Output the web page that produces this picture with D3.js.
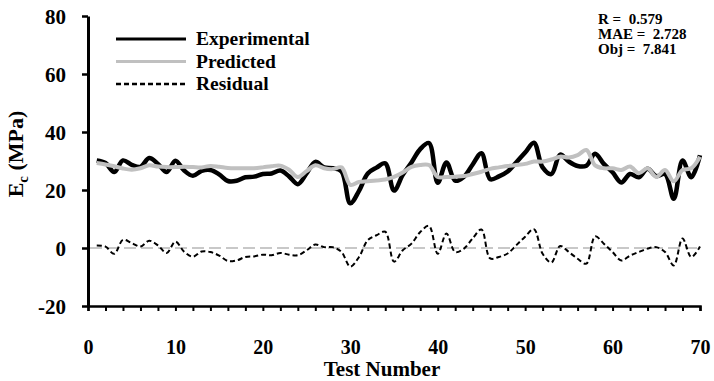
<!DOCTYPE html>
<html>
<head>
<meta charset="utf-8">
<script src="https://cdn.jsdelivr.net/npm/d3@7"></script>
<style>
  body { margin: 0; background: #fff; }
  text { font-family: "Liberation Serif", "Times New Roman", serif; font-weight: bold; fill: #000; }
</style>
</head>
<body>
<div id="chart"></div>
<script>
const tests = d3.range(1, 71);
const predicted = [29.3, 28.8, 28.2, 27.4, 27.0, 27.5, 28.5, 28.1, 27.9, 27.9,
  28.0, 27.9, 27.8, 28.3, 28.0, 27.6, 27.5, 27.5, 27.5, 27.8,
  28.2, 28.4, 27.0, 24.5, 26.5, 28.5, 27.5, 27.2, 27.8, 21.8,
  22.8, 23.0, 23.3, 23.6, 24.5, 26.0, 28.0, 28.6, 28.6, 24.5,
  24.5, 24.6, 24.8, 25.5, 26.3, 27.3, 27.8, 28.3, 28.6, 29.0,
  29.8, 29.8, 30.5, 31.5, 31.2, 32.0, 33.8, 28.5, 27.5, 27.5,
  26.9, 28.1, 25.8, 27.5, 24.5, 26.9, 23.0, 26.9, 27.5, 31.5];
const residual = [0.9, 0.5, -2.0, 2.8, 1.7, 0.5, 2.5, 0.9, -1.7, 2.2,
  -1.3, -3.0, -1.2, -1.4, -2.6, -4.5, -4.3, -3.1, -2.9, -2.3,
  -2.5, -1.7, -2.3, -2.5, -0.8, 1.2, 0.3, 0.3, -1.4, -6.4,
  -3.1, 2.7, 4.4, 5.6, -4.7, -0.8, 1.5, 5.5, 7.6, -2.0,
  5.0, -1.4, -0.2, 3.3, 6.4, -3.6, -3.1, -1.9, 1.0, 3.9,
  6.5, -2.0, -5.0, 0.7, -1.4, -3.7, -5.4, 4.0, 1.5, -1.4,
  -4.3, -2.6, -1.4, -0.2, 0.3, -1.4, -6.0, 3.3, -3.1, 0.5];
const experimental = [30.2, 29.3, 26.2, 30.2, 28.7, 28.0, 31.0, 29.0, 26.2, 30.1,
  26.7, 24.9, 26.6, 26.9, 25.4, 23.1, 23.2, 24.4, 24.6, 25.5,
  25.7, 26.7, 24.7, 22.0, 25.7, 29.7, 27.8, 27.5, 26.4, 15.4,
  19.7, 25.7, 27.7, 29.2, 19.8, 25.2, 29.5, 34.1, 36.2, 22.5,
  29.5, 23.2, 24.6, 28.8, 32.7, 23.7, 24.7, 26.4, 29.6, 32.9,
  36.3, 27.8, 25.5, 32.2, 29.8, 28.3, 28.4, 32.5, 29.0, 26.1,
  22.6, 25.5, 24.4, 27.3, 24.8, 25.5, 17.0, 30.2, 24.4, 32.0];
const xTicks = d3.range(0, 71, 2);
const yTicks = [-20, 0, 20, 40, 60, 80];
const stats = ['R =\u00a0\u00a00.579', 'MAE =\u00a0\u00a02.728', 'Obj =\u00a0\u00a07.841'];
const legendItems = ['Experimental', 'Predicted', 'Residual'];

const width = 714, height = 381;
const font = '"Liberation Serif", "Times New Roman", serif';
const svg = d3.select('#chart').append('svg').attr('width', width).attr('height', height);

const x = d3.scaleLinear().domain([0, 70]).range([88, 700]);
const y = d3.scaleLinear().domain([-20, 80]).range([306, 16]);

// axes
const xAxis = d3.axisBottom(x).tickValues(xTicks).tickSize(5)
  .tickFormat(d => d % 10 === 0 ? String(d) : '');
const gx = svg.append('g').attr('transform', 'translate(0,' + y(-20) + ')').call(xAxis);
gx.select('.domain').attr('stroke-width', 2.5);
gx.selectAll('.tick line').attr('stroke-width', 2);
gx.selectAll('.tick text').attr('y', 48).attr('dy', 0)
  .style('font-family', font).style('font-size', '20px');

const yAxis = d3.axisLeft(y).tickValues(yTicks).tickSize(6).tickSizeOuter(0)
  .tickFormat(d => String(d));
const gy = svg.append('g').attr('transform', 'translate(' + x(0) + ',0)').call(yAxis);
gy.select('.domain').attr('stroke-width', 3);
gy.selectAll('.tick line').attr('stroke-width', 2.5);
gy.selectAll('.tick text').attr('x', -22).attr('dy', '0.36em')
  .style('font-family', font).style('font-size', '21px');

// zero line
svg.append('line')
  .attr('x1', x(0) + 2).attr('x2', x(70)).attr('y1', y(0)).attr('y2', y(0))
  .attr('stroke', '#c8c8c8').attr('stroke-width', 2).attr('stroke-dasharray', '12,5');

const line = arr => d3.line().x((d, i) => x(tests[i])).y(d => y(d)).curve(d3.curveCatmullRom)(arr);

svg.append('path').attr('d', line(residual)).attr('fill', 'none')
  .attr('stroke', '#000').attr('stroke-width', 2).attr('stroke-dasharray', '5,3');
svg.append('path').attr('d', line(experimental)).attr('fill', 'none')
  .attr('stroke', '#000').attr('stroke-width', 4.5);
svg.append('path').attr('d', line(predicted)).attr('fill', 'none')
  .attr('stroke', '#c0c0c0').attr('stroke-width', 4);

// legend
const legendStyles = [
  {stroke: '#000', w: 3, dash: null},
  {stroke: '#c0c0c0', w: 3, dash: null},
  {stroke: '#000', w: 2.5, dash: '5,3'}
];
const lg = svg.append('g');
legendItems.forEach((name, i) => {
  const ly = 39 + i * 22.5;
  lg.append('line').attr('x1', 116).attr('x2', 186).attr('y1', ly).attr('y2', ly)
    .attr('stroke', legendStyles[i].stroke).attr('stroke-width', legendStyles[i].w)
    .attr('stroke-dasharray', legendStyles[i].dash);
  lg.append('text').attr('x', 196).attr('y', ly + 6).style('font-size', '19.5px').text(name);
});

// stats
stats.forEach((s, i) => {
  svg.append('text').attr('x', 598).attr('y', 24 + i * 15)
    .style('font-size', '15px').text(s);
});

// axis titles
svg.append('text').attr('x', 382).attr('y', 375.5).attr('text-anchor', 'middle')
  .style('font-size', '21px').text('Test Number');

const yt = svg.append('text').attr('transform', 'translate(23,154) rotate(-90)')
  .attr('text-anchor', 'middle').style('font-size', '22px');
yt.append('tspan').text('E');
yt.append('tspan').attr('dy', 5).style('font-size', '15px').text('c');
yt.append('tspan').attr('dy', -5).text(' (MPa)');
</script>
</body>
</html>
